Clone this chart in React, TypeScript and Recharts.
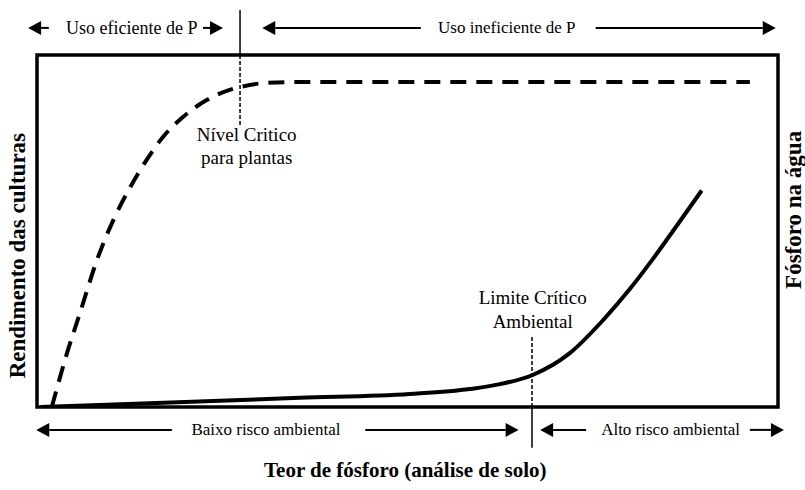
import React from "react";
import {
  ComposedChart,
  Line,
  XAxis,
  YAxis,
  ReferenceArea,
  ReferenceLine,
  ReferenceDot,
} from "recharts";

// Soil P (0-100, relative) vs crop yield (dashed) and P in water (solid)
const YIELD_SOIL_P = [2.0, 4.05, 5.8, 8.1, 10.3, 12.6, 14.8, 17.0, 19.7, 22.9, 26.0, 27.4, 30.5, 34.1, 50, 70, 96.2];
const YIELD_VALUES = [0, 15.3, 26.7, 41.8, 53.1, 62.5, 70.2, 76.7, 82.4, 87.2, 90.1, 90.9, 92.0, 92.3, 92.3, 92.3, 92.3];

const WATER_SOIL_P = [0.5, 15.2, 35.5, 50.3, 58.4, 62.5, 66.9, 71.9, 76.4, 80.0, 83.1, 86.0, 89.7];
const WATER_VALUES = [0, 1.1, 2.6, 3.7, 5.1, 6.5, 9.1, 15.3, 24.7, 33.5, 42.0, 50.5, 61.5];

const PLANT_CRITICAL = 27.4;
const ENV_CRITICAL = 66.8;

const yieldData = YIELD_SOIL_P.map((x, i) => ({ p: x, v: YIELD_VALUES[i] }));
const waterData = WATER_SOIL_P.map((x, i) => ({ p: x, v: WATER_VALUES[i] }));

const FONT = "'Liberation Serif', 'Times New Roman', serif";

// arrows: [from, to] on x, at height y (head drawn at "to")
const ARROWS = [
  { from: 1.6, to: -1.2, y: 107.7 },
  { from: 22.4, to: 25.1, y: 107.7 },
  { from: 51.8, to: 30.4, y: 107.7 },
  { from: 75.4, to: 99.7, y: 107.7 },
  { from: 18.2, to: -0.1, y: -6.5 },
  { from: 44.3, to: 65.0, y: -6.5 },
  { from: 74.1, to: 67.9, y: -6.5 },
  { from: 96.2, to: 100.8, y: -6.5 },
];

const LABELS = [
  { text: "Uso eficiente de P", x: 12.8, y: 107.7, size: 18 },
  { text: "Uso ineficiente de P", x: 63.4, y: 107.7, size: 17 },
  { text: "Nível Critico", x: 28.3, y: 77.3, size: 19 },
  { text: "para plantas", x: 28.3, y: 71.0, size: 19 },
  { text: "Limite Crítico", x: 66.9, y: 31.0, size: 19 },
  { text: "Ambiental", x: 66.9, y: 24.3, size: 19 },
  { text: "Baixo risco ambiental", x: 30.9, y: -6.5, size: 17 },
  { text: "Alto risco ambiental", x: 85.5, y: -6.5, size: 17 },
  { text: "Teor de fósforo (análise de solo)", x: 49.7, y: -17.9, size: 21, bold: true },
  { text: "Rendimento das culturas", x: -2.6, y: 43.0, size: 23, bold: true, rotate: true },
  { text: "Fósforo na água", x: 102.1, y: 56.0, size: 23, bold: true, rotate: true },
];

const arrowShape = (props: any) => {
  const { x1, y1, x2, y2 } = props;
  const dir = x2 > x1 ? 1 : -1;
  const L = 13;
  const h = 7;
  return (
    <g>
      <line x1={x1} y1={y1} x2={x2 - dir * L} y2={y2} stroke="#000" strokeWidth={2} />
      <polygon points={`${x2},${y2} ${x2 - dir * L},${y2 - h} ${x2 - dir * L},${y2 + h}`} fill="#000" />
    </g>
  );
};

const textShape = (l: (typeof LABELS)[number]) => (props: any) => {
  const { cx, cy } = props;
  return (
    <text
      x={cx}
      y={cy}
      textAnchor="middle"
      dominantBaseline="central"
      style={{
        fontFamily: FONT,
        fontSize: l.size,
        fontWeight: l.bold ? 700 : 400,
      }}
      fill="#000"
      transform={l.rotate ? `rotate(-90, ${cx}, ${cy})` : undefined}
    >
      {l.text}
    </text>
  );
};

export default function App() {
  return (
    <div style={{ position: "absolute", left: 0, top: 0, background: "#fff", fontFamily: FONT }}>
      <ComposedChart width={805} height={490} margin={{ top: 55, right: 27, bottom: 83, left: 37 }}>
        <XAxis type="number" dataKey="p" domain={[0, 100]} hide allowDataOverflow />
        <YAxis yAxisId="left" domain={[0, 100]} hide allowDataOverflow />
        <YAxis yAxisId="right" orientation="right" domain={[0, 100]} hide allowDataOverflow />

        <ReferenceArea
          yAxisId="left"
          x1={0}
          x2={100}
          y1={0}
          y2={100}
          fill="none"
          fillOpacity={0}
          stroke="#000"
          strokeWidth={3.5}
          ifOverflow="visible"
        />

        {/* plant critical level */}
        <ReferenceLine
          yAxisId="left"
          segment={[{ x: PLANT_CRITICAL, y: 100 }, { x: PLANT_CRITICAL, y: 112.8 }]}
          stroke="#000"
          strokeWidth={1.5}
          ifOverflow="visible"
        />
        <ReferenceLine
          yAxisId="left"
          segment={[{ x: PLANT_CRITICAL, y: 100 }, { x: PLANT_CRITICAL, y: 80.1 }]}
          stroke="#000"
          strokeWidth={1.5}
          strokeDasharray="4 2"
          ifOverflow="visible"
        />

        {/* environmental critical limit */}
        <ReferenceLine
          yAxisId="left"
          segment={[{ x: ENV_CRITICAL, y: 19.9 }, { x: ENV_CRITICAL, y: 0 }]}
          stroke="#000"
          strokeWidth={1.5}
          strokeDasharray="4 2"
          ifOverflow="visible"
        />
        <ReferenceLine
          yAxisId="left"
          segment={[{ x: ENV_CRITICAL, y: 0 }, { x: ENV_CRITICAL, y: -11.6 }]}
          stroke="#000"
          strokeWidth={1.5}
          ifOverflow="visible"
        />

        {ARROWS.map((a, i) => (
          <ReferenceLine
            key={`a${i}`}
            yAxisId="left"
            segment={[{ x: a.from, y: a.y }, { x: a.to, y: a.y }]}
            shape={arrowShape}
            ifOverflow="visible"
          />
        ))}

        <Line
          yAxisId="left"
          data={yieldData}
          dataKey="v"
          type="monotone"
          stroke="#000"
          strokeWidth={4}
          strokeDasharray="16 10"
          dot={false}
          isAnimationActive={false}
        />
        <Line
          yAxisId="right"
          data={waterData}
          dataKey="v"
          type="monotone"
          stroke="#000"
          strokeWidth={4}
          dot={false}
          isAnimationActive={false}
        />

        {LABELS.map((l, i) => (
          <ReferenceDot
            key={`l${i}`}
            yAxisId="left"
            x={l.x}
            y={l.y}
            r={0}
            shape={textShape(l)}
            ifOverflow="visible"
          />
        ))}
      </ComposedChart>
    </div>
  );
}
